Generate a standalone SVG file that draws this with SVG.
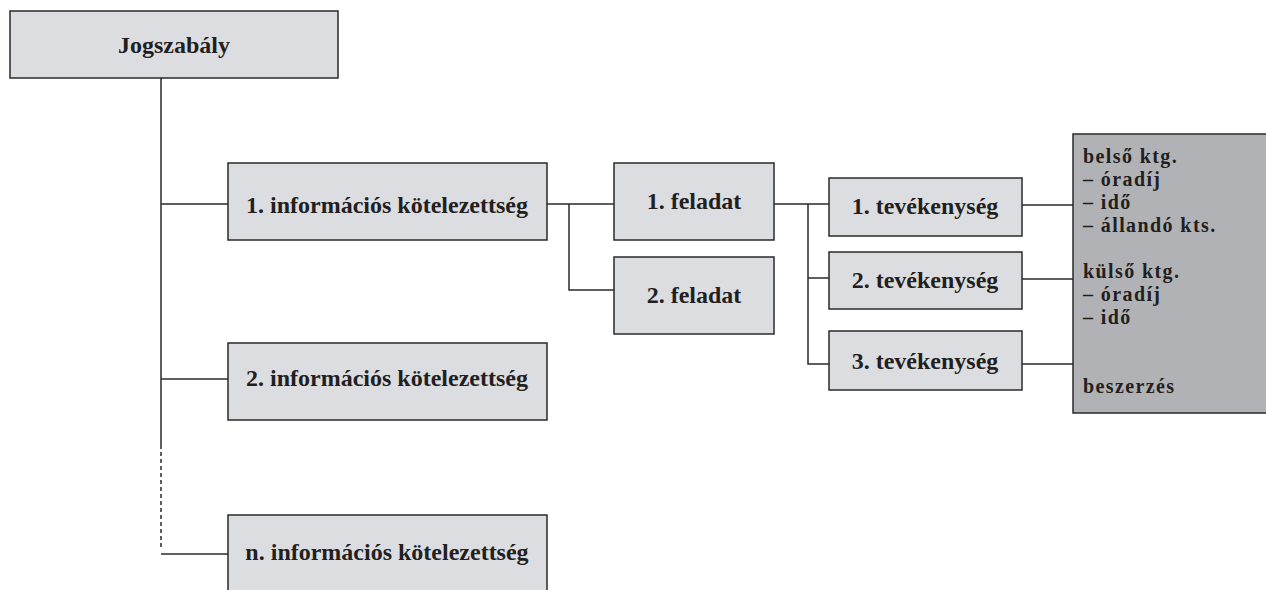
<svg xmlns="http://www.w3.org/2000/svg" width="1266" height="590" viewBox="0 0 1266 590">
<style>
.box{fill:#dcdde0;stroke:#2a2a2a;stroke-width:1.5}
.dark{fill:#b1b2b5;stroke:#2a2a2a;stroke-width:1.5}
.t{font-family:"Liberation Serif","DejaVu Serif",serif;font-weight:bold;font-size:24px;fill:#231f20;text-anchor:middle}
.l{font-family:"Liberation Serif","DejaVu Serif",serif;font-weight:bold;font-size:20px;letter-spacing:1.4px;fill:#231f20}
.c{fill:none;stroke:#2a2a2a;stroke-width:1.5}
.d{fill:none;stroke:#2a2a2a;stroke-width:1.5;stroke-dasharray:4 3}
</style>
<rect width="1266" height="590" fill="#ffffff"/>
<g id="connectors">
<path class="c" d="M161 78V445"/>
<path class="d" d="M161 445V550"/>
<path class="c" d="M161 554H228"/>
<path class="c" d="M161 204H228"/>
<path class="c" d="M161 379H228"/>
<path class="c" d="M547 204H614"/>
<path class="c" d="M569 204V290H614"/>
<path class="c" d="M774 204H829"/>
<path class="c" d="M808 204V364H829"/>
<path class="c" d="M808 278H829"/>
<path class="c" d="M1022 205H1073"/>
<path class="c" d="M1022 279H1073"/>
<path class="c" d="M1022 364H1073"/>
</g>
<g id="jogszabaly">
<rect class="box" x="10" y="11" width="328" height="67"/>
<text class="t" x="174" y="53">Jogszabály</text>
</g>
<g id="info1">
<rect class="box" x="228" y="163" width="319" height="77"/>
<text class="t" x="387" y="213">1. információs kötelezettség</text>
</g>
<g id="info2">
<rect class="box" x="228" y="343" width="319" height="77"/>
<text class="t" x="387" y="386">2. információs kötelezettség</text>
</g>
<g id="infon">
<rect class="box" x="228" y="515" width="319" height="90"/>
<text class="t" x="387" y="560">n. információs kötelezettség</text>
</g>
<g id="feladat1">
<rect class="box" x="614" y="163" width="160" height="77"/>
<text class="t" x="694" y="209">1. feladat</text>
</g>
<g id="feladat2">
<rect class="box" x="614" y="257" width="160" height="77"/>
<text class="t" x="694" y="303">2. feladat</text>
</g>
<g id="tev1">
<rect class="box" x="829" y="178" width="193" height="58"/>
<text class="t" x="925" y="214">1. tevékenység</text>
</g>
<g id="tev2">
<rect class="box" x="829" y="252" width="193" height="57"/>
<text class="t" x="925" y="288">2. tevékenység</text>
</g>
<g id="tev3">
<rect class="box" x="829" y="331" width="193" height="59"/>
<text class="t" x="925" y="369">3. tevékenység</text>
</g>
<g id="koltseg">
<rect class="dark" x="1073" y="134" width="200" height="279"/>
<text class="l" x="1083" y="163">belső ktg.</text>
<text class="l" x="1083" y="186">– óradíj</text>
<text class="l" x="1083" y="209">– idő</text>
<text class="l" x="1083" y="232">– állandó kts.</text>
<text class="l" x="1083" y="278">külső ktg.</text>
<text class="l" x="1083" y="301">– óradíj</text>
<text class="l" x="1083" y="324">– idő</text>
<text class="l" x="1083" y="393">beszerzés</text>
</g>
</svg>
